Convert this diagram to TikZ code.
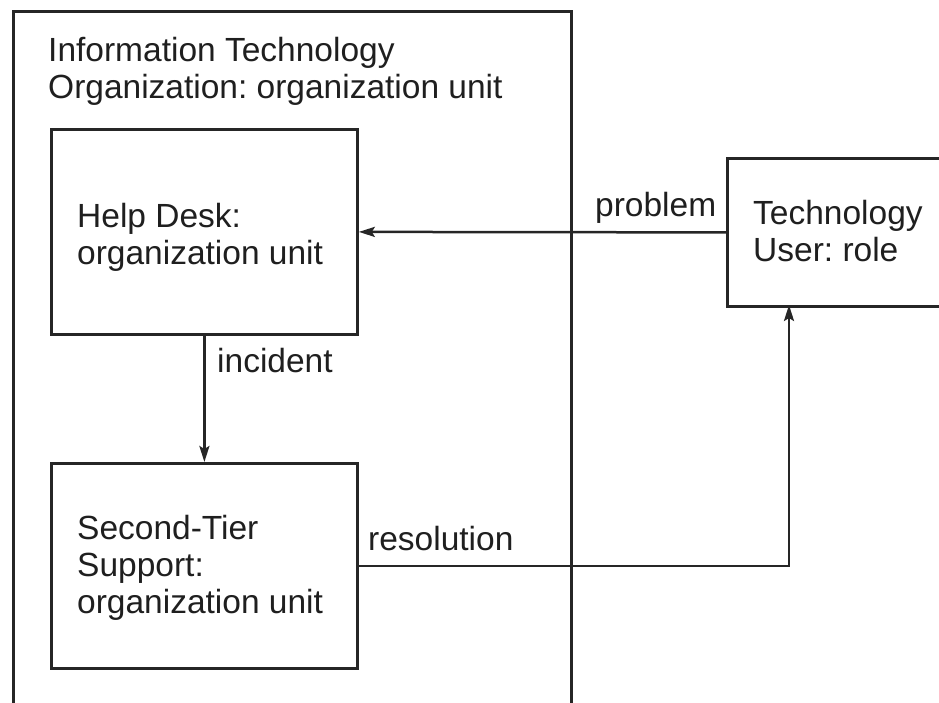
\documentclass[tikz,border=0pt]{standalone}
\usepackage{fontspec}
\setmainfont{Liberation Sans}
\usetikzlibrary{arrows.meta}
\frenchspacing
\begin{document}
\begin{tikzpicture}[x=1pt,y=-1pt,
  box/.style={draw=black!85, line width=2.8pt, inner sep=0pt, anchor=north west},
  txt/.style={anchor=north west, inner sep=0pt, align=left, font=\fontsize{33.5}{37}\selectfont, text=black!88},
  lbl/.style={anchor=base west, inner sep=0pt, font=\fontsize{33.5}{37}\selectfont, text=black!88},
  conn/.style={draw=black!85, line width=2.5pt, -{Stealth[length=16pt,width=10pt,inset=3pt]}}]
\useasboundingbox (0,0) rectangle (939,703);
\begin{scope}
\clip (0,0) rectangle (939,703);
% boxes
\node[box, minimum width=558pt, minimum height=730pt] (org) at (12,10) {};
\node[box, minimum width=306pt, minimum height=205pt] (hd) at (50,128) {};
\node[box, minimum width=306pt, minimum height=205pt] (st) at (50,462) {};
\node[box, minimum width=260pt, minimum height=148pt] (tu) at (726,157) {};
\end{scope}
% texts
\node[txt] (orgt) at (48,37) {Information Technology\\Organization: organization unit};
\node[txt] (hdt) at (77,203) {Help Desk:\\organization unit};
\node[txt] (stt) at (77,515) {Second-Tier\\Support:\\organization unit};
\node[txt] (tut) at (753,200) {Technology\\User: role};
% connectors
\coordinate (r) at (789,305);
\draw[conn] (tu.west) -- (hd.east);
\draw[conn] (hd.south) -- (st.north);
\draw[conn] (st.east) -| (r);
% labels
\node[lbl] (lp) at (595,217) {problem};
\node[lbl] (li) at (217,372) {incident};
\node[lbl] (lr) at (368,550) {resolution};
\end{tikzpicture}
\end{document}
